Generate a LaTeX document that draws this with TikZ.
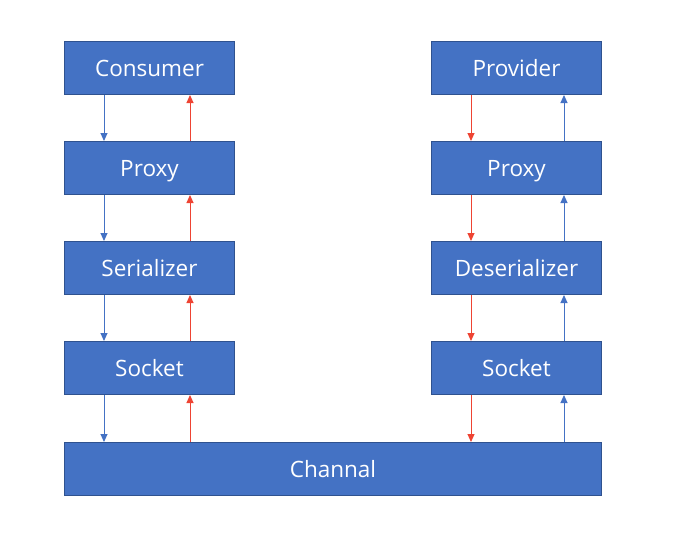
\documentclass[tikz,border=0pt]{standalone}
\usepackage{fontspec}
\setmainfont{Open Sans}
\usetikzlibrary{arrows.meta}
\definecolor{boxfill}{HTML}{4472C4}
\definecolor{boxline}{HTML}{2F528F}
\definecolor{arrred}{HTML}{EE4433}
\definecolor{arrblue}{HTML}{4472C4}
\tikzset{
  blk/.style={draw=boxline, line width=1pt, fill=boxfill, text=white, minimum width=170pt, minimum height=53pt, inner sep=0pt, text height=19pt, text depth=2pt, font=\fontsize{22.5}{26}\selectfont, anchor=north west},
  wide/.style={blk, minimum width=537pt},
  dn/.style={-{Triangle[width=7pt,length=8pt]}, line width=1pt},
  bl/.style={draw=arrblue, color=arrblue},
  rd/.style={draw=arrred, color=arrred},
}
\begin{document}
\begin{tikzpicture}[x=1pt,y=-1pt]
\useasboundingbox (0,0) rectangle (673,544);
\node[blk] (cons) at (64,41) {Consumer};
\node[blk] (lprox) at (64,141) {Proxy};
\node[blk] (ser) at (64,241) {Serializer};
\node[blk] (lsock) at (64,341) {Socket};
\node[blk] (prov) at (431,41) {Provider};
\node[blk] (rprox) at (431,141) {Proxy};
\node[blk] (deser) at (431,241) {Deserializer};
\node[blk] (rsock) at (431,341) {Socket};
\node[wide] (chan) at (64,442) {Channal};
% left side: blue down at x=104, red up at x=190
\foreach \a/\b in {cons/lprox, lprox/ser, ser/lsock, lsock/chan}{
  \draw[dn,bl] (\a.south west) ++(40,0) coordinate (s) -- (s |- \b.north);
  \draw[dn,rd] (\a.south west) ++(126,0) coordinate (t) (t |- \b.north) -- (t);
}
% right side: red down at x=471, blue up at x=564
\foreach \a/\b in {prov/rprox, rprox/deser, deser/rsock}{
  \draw[dn,rd] (\a.south west) ++(40,0) coordinate (s) -- (s |- \b.north);
  \draw[dn,bl] (\a.south west) ++(133,0) coordinate (t) (t |- \b.north) -- (t);
}
\draw[dn,rd] (rsock.south west) ++(40,0) coordinate (s) -- (s |- chan.north);
\draw[dn,bl] (rsock.south west) ++(133,0) coordinate (t) (t |- chan.north) -- (t);
\end{tikzpicture}
\end{document}
